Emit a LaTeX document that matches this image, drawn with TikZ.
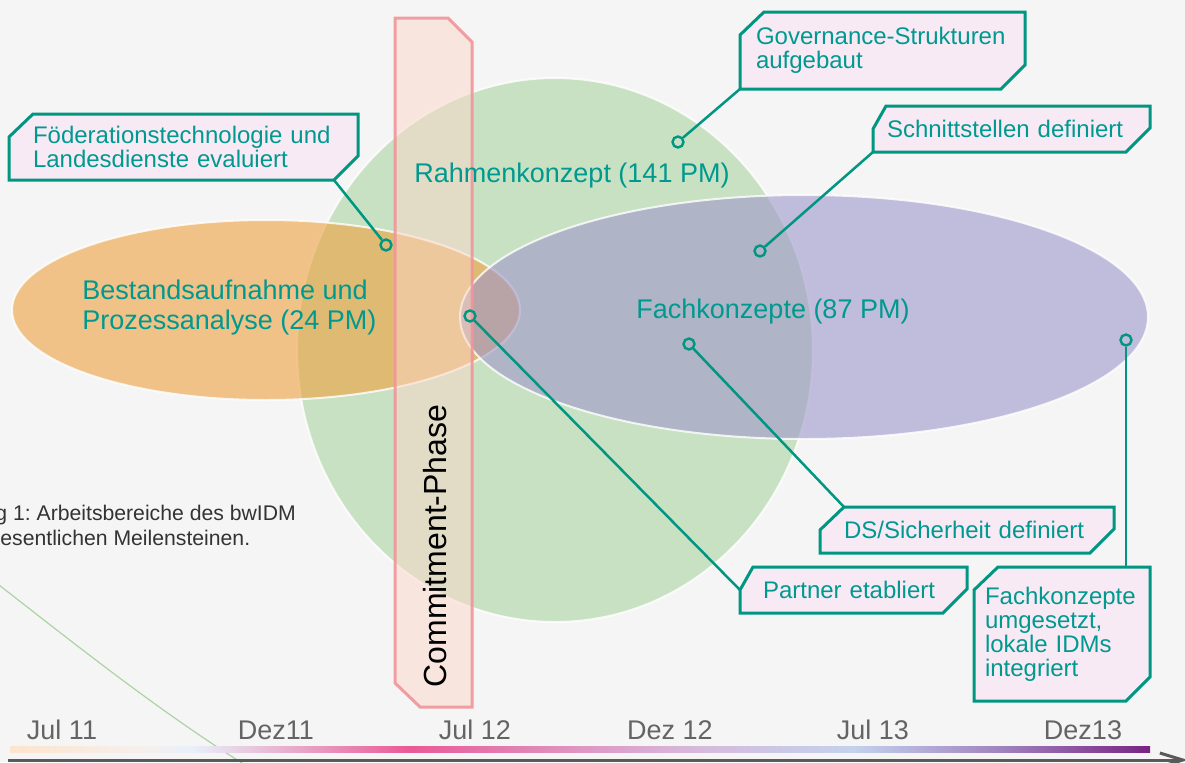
\documentclass[tikz,border=0pt]{standalone}
\usepackage{fontspec}
\setmainfont{Liberation Sans}
\usepackage{tikz}
\usetikzlibrary{positioning}
\usetikzlibrary{arrows.meta}

\definecolor{bgcol}{HTML}{F5F5F5}
\definecolor{tealline}{HTML}{009682}
\definecolor{tealtext}{HTML}{00998F}
\definecolor{calloutfill}{HTML}{F8EAF5}
\definecolor{orangearea}{HTML}{EEA03E}
\definecolor{greenarea}{HTML}{ACD4A3}
\definecolor{purplearea}{HTML}{9E96CB}
\definecolor{phasefill}{HTML}{FBD7C7}
\definecolor{phaseline}{HTML}{F0959A}
\definecolor{axisgray}{HTML}{646464}
\definecolor{captiongray}{HTML}{333333}
\definecolor{tlpeach}{RGB}{253,228,204}
\definecolor{tlpale}{RGB}{245,240,238}
\definecolor{tlblue}{RGB}{232,240,250}
\definecolor{tlpink}{RGB}{233,90,150}
\definecolor{tlrose}{RGB}{222,150,195}
\definecolor{tllav}{RGB}{215,185,220}
\definecolor{tlsky}{RGB}{195,210,238}
\definecolor{tlviolet}{RGB}{160,130,190}
\definecolor{tlpurple}{RGB}{120,35,130}

\pgfdeclarehorizontalshading{timeline}{100bp}{color(0bp)=(tlpeach); color(25bp)=(tlpeach); color(31bp)=(tlpale); color(33bp)=(tlblue); color(42.5bp)=(tlpink); color(50bp)=(tlrose); color(55bp)=(tllav); color(62bp)=(tlsky); color(68.5bp)=(tlviolet); color(75bp)=(tlpurple); color(100bp)=(tlpurple)}

\pgfdeclarelayer{paper}
\pgfdeclarelayer{frames}
\pgfsetlayers{paper,frames,main}

% chamfered outline round a callout node
\newcommand{\calloutframe}[2][12pt]{%
    \draw[frame] ([yshift=-11.5pt]#2.north west) -- ([xshift=#1]#2.north west) -- (#2.north east)
        -- ([yshift=12pt]#2.south east) -- ([xshift=-12pt]#2.south east) -- (#2.south west) -- cycle;}

\frenchspacing

\begin{document}
\begin{tikzpicture}[x=0.5pt,y=-0.5pt,
    area/.style={draw=white,line width=1pt,draw opacity=0.8,fill opacity=0.6},
    callout/.style={rectangle,inner sep=0pt,outer sep=0pt,text=tealtext,align=left,
        font=\fontsize{12}{12}\selectfont},
    frame/.style={draw=tealline,line width=1.5pt,fill=calloutfill},
    arealabel/.style={text=tealtext,inner sep=0pt,font=\fontsize{13.5}{15}\selectfont},
    dot/.style={circle,draw=tealline,line width=1.2pt,inner sep=0pt,minimum size=5.5pt},
    leader/.style={draw=tealline,line width=1.25pt},
    datelabel/.style={text=axisgray,inner sep=0pt,anchor=base,font=\fontsize{13.5}{15}\selectfont},
    caption/.style={text=captiongray,inner sep=0pt,anchor=base west,font=\fontsize{10.6}{12.5}\selectfont}]
        %
        \useasboundingbox (0,0) rectangle (1185,762);
        \begin{pgfonlayer}{paper}
            \fill[bgcol] (0,0) rectangle (1185,762);
        \end{pgfonlayer}
        %
        \draw[greenarea,line width=0.6pt] (-10,578) .. controls (80,648) and (160,712) .. (250,768);
        \node[caption] (captiontop) at (-5,520) {g 1: Arbeitsbereiche des bwIDM};
        \node[caption] (captionbottom) at (0,545) {esentlichen Meilensteinen.};
        %
        \draw[area,fill=greenarea] (555,350) ellipse [x radius=258,y radius=272];
        \draw[area,fill=orangearea] (266,310) ellipse [x radius=254,y radius=90];
        \draw[area,fill=purplearea] (804,317) ellipse [x radius=344,y radius=122];
        %
        \draw[fill=phasefill,fill opacity=0.5,draw=phaseline,draw opacity=0.9,line width=1.5pt]
            (395,18) -- (448,18) -- (472,42) -- (472,707) -- (420,707) -- (395,683) -- cycle;
        \node[rotate=90,anchor=base,inner sep=0pt,font=\fontsize{16}{18}\selectfont] (phase) at (446,546) {Commitment-Phase};
        %
        \node[arealabel,anchor=base] (rahmen) at (572,182) {Rahmenkonzept (141 PM)};
        \node[arealabel,anchor=base] (fach) at (773,318) {Fachkonzepte (87 PM)};
        \node[arealabel,anchor=west,align=left] (bestand) at (82,308) {Bestandsaufnahme und\\Prozessanalyse (24 PM)};
        %
        \node[callout,minimum width=174.5pt,minimum height=33pt,text width=150.5pt] (foederation) at (183.5,147) {Föderationstechnologie und\\Landesdienste evaluiert};
        \node[callout,minimum width=142.5pt,minimum height=38.5pt,text width=126.5pt] (governance) at (882.5,50.5) {Governance-Strukturen\\aufgebaut};
        \node[callout,minimum width=138.5pt,minimum height=23pt,text width=124.5pt] (schnitt) at (1011.5,129) {Schnittstellen definiert};
        \node[callout,minimum width=147pt,minimum height=23pt,text width=123pt] (sicherheit) at (967,530) {DS/Sicherheit definiert};
        \node[callout,minimum width=113.5pt,minimum height=23pt,text width=90.5pt] (partner) at (853.5,590) {Partner etabliert};
        \node[callout,minimum width=88pt,minimum height=67pt,text width=77pt] (umgesetzt) at (1062,634) {Fachkonzepte\\umgesetzt,\\lokale IDMs\\integriert};
        %
        \begin{pgfonlayer}{frames}
            \foreach \calloutname in {foederation,governance,sicherheit,umgesetzt}
                \calloutframe{\calloutname};
            \calloutframe[6.5pt]{schnitt};
            \calloutframe[6.5pt]{partner};
        \end{pgfonlayer}
        %
        \node[dot] (foederationdot) at (386,245) {};
        \node[dot] (governancedot) at (678,142) {};
        \node[dot] (schnittdot) at (760,251) {};
        \node[dot] (sicherheitdot) at (689,344) {};
        \node[dot] (partnerdot) at (470,316) {};
        \node[dot] (umgesetztdot) at (1126,340) {};
        %
        \draw[leader] (foederationdot) -- ([xshift=-12pt]foederation.south east);
        \draw[leader] (governancedot) -- (governance.south west);
        \draw[leader] (schnittdot) -- (schnitt.south west);
        \draw[leader] (sicherheitdot) -- ([xshift=12pt]sicherheit.north west);
        \draw[leader] (partnerdot) -- ([yshift=-11.5pt]partner.north west);
        \draw[leader] (umgesetztdot) -- (umgesetztdot |- umgesetzt.north);
        %
        \foreach \x/\datum in {62/Jul 11,276/Dez11,475/Jul 12,670/Dez 12,873/Jul 13,1083/Dez13}
            \node[datelabel] (date-\x) at (\x,739) {\datum};
        \shade[shading=timeline] (10,746) rectangle (1150,752);
        \draw[draw=axisgray!90!black,line width=1.5pt,-{Straight Barb[length=11.5pt,width=7pt]}] (8,760) -- (1188,760);
        %
    \end{tikzpicture}
\end{document}
